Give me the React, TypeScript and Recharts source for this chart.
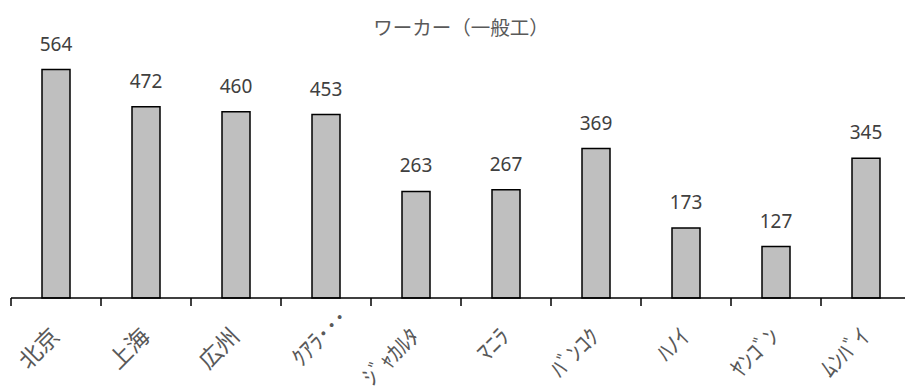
import { Bar, BarChart, LabelList, XAxis, YAxis } from "recharts";

const cities = [
  "北京",
  "上海",
  "広州",
  "ｸｱﾗ･･･",
  "ｼﾞｬｶﾙﾀ",
  "ﾏﾆﾗ",
  "ﾊﾞﾝｺｸ",
  "ﾊﾉｲ",
  "ﾔﾝｺﾞﾝ",
  "ﾑﾝﾊﾞｲ",
];
const wages = [564, 472, 460, 453, 263, 267, 369, 173, 127, 345];
const title = "ワーカー（一般工）";

const data = cities.map((city, i) => ({ city, wage: wages[i] }));

const CHART_W = 916;
const CHART_H = 392;
const MARGIN = { top: 55, right: 5, left: 11, bottom: 4 };
const PLOT_W = CHART_W - MARGIN.left - MARGIN.right;
const BAND = PLOT_W / cities.length;

const jpFont = '"Noto Sans CJK JP", "Noto Sans", sans-serif';

// category label rotated 45deg, plus the Excel-style tick on the band boundary
const CityTick = ({ x, y, payload, index }: any) => {
  const left = x - BAND / 2;
  const isLast = index === cities.length - 1;
  // the clipped name is pushed further up its slot
  const slide = String(payload.value).endsWith("･･･") ? 19 : 0;
  const tx = x + 5 + slide;
  const ty = y + 40 - slide;
  return (
    <g>
      <line x1={left} x2={left} y1={y} y2={y + 8} stroke="#000" strokeWidth={1.5} />
      {isLast && (
        <line
          x1={left + BAND}
          x2={left + BAND}
          y1={y}
          y2={y + 8}
          stroke="#000"
          strokeWidth={1.5}
        />
      )}
      <g transform={`translate(${tx}, ${ty}) rotate(-45)`}>
        <text
          x={0}
          y={0}
          textAnchor="end"
          fill="#595959"
          fontSize={23}
          fontFamily={jpFont}
        >
          {payload.value}
        </text>
      </g>
    </g>
  );
};

export default function App() {
  return (
    <div
      style={{
        position: "absolute",
        left: 0,
        top: 0,
        width: 905,
        height: 392,
        overflow: "hidden",
        background: "#fff",
      }}
    >
      <BarChart width={CHART_W} height={CHART_H} data={data} margin={MARGIN}>
        <text
          x={MARGIN.left + PLOT_W / 2}
          y={35}
          textAnchor="middle"
          fill="#595959"
          fontSize={19.5}
          fontFamily={jpFont}
        >
          {title}
        </text>
        <XAxis
          dataKey="city"
          height={90}
          interval={0}
          axisLine={{ stroke: "#000", strokeWidth: 1.5 }}
          tickLine={false}
          tickSize={0}
          tickMargin={0}
          tick={<CityTick />}
        />
        <YAxis hide domain={[0, 600]} />
        <Bar
          dataKey="wage"
          fill="#BFBFBF"
          stroke="#000"
          strokeWidth={1.5}
          barSize={28}
          isAnimationActive={false}
        >
          <LabelList
            dataKey="wage"
            position="top"
            offset={19}
            fill="#404040"
            fontSize={19}
            fontFamily='"Noto Sans", sans-serif'
          />
        </Bar>
      </BarChart>
    </div>
  );
}
